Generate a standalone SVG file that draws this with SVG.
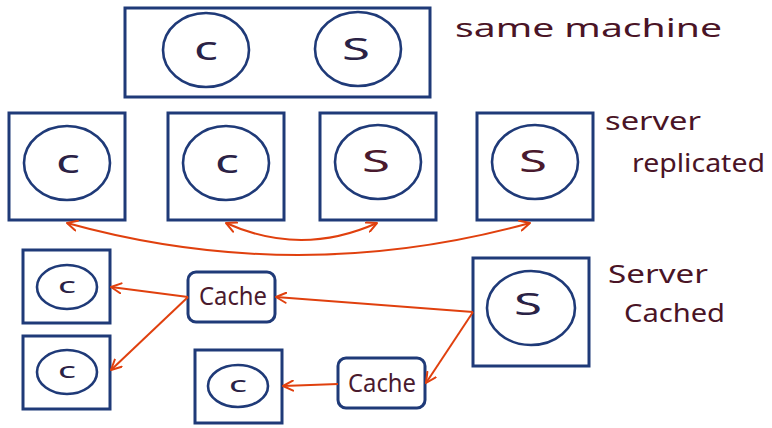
<svg xmlns="http://www.w3.org/2000/svg" width="772" height="428" viewBox="0 0 772 428">
<style>
.box{fill:#fff;stroke:#1f3a78;stroke-width:3}
.cir{fill:none;stroke:#1f3a78;stroke-width:2.6}
.cache{fill:#fff;stroke:#1f3a78;stroke-width:3}
.lbl{font-family:"Noto Sans",sans-serif;fill:#4a1426;font-size:26px}
.ch{font-family:"Noto Sans",sans-serif;fill:#2a2246;text-anchor:middle}
.sv{font-family:"Noto Sans",sans-serif;fill:#4a1a2e;text-anchor:middle}
.arr{fill:none;stroke:#e0400e;stroke-width:2}
</style>
<defs>
<marker id="ah" viewBox="0 0 12 12" refX="11" refY="6" markerWidth="12" markerHeight="12" markerUnits="userSpaceOnUse" orient="auto-start-reverse">
<path d="M1 1 L11 6 L1 11" fill="none" stroke="#e0400e" stroke-width="2" stroke-linecap="round" stroke-linejoin="round"/>
</marker>
</defs>

<g id="same-machine">
<rect class="box" x="125" y="8" width="305" height="89"/>
<ellipse class="cir" cx="206" cy="50" rx="43" ry="37"/>
<text class="ch" x="206" y="60" font-size="32" textLength="24" lengthAdjust="spacingAndGlyphs">c</text>
<ellipse class="cir" cx="358" cy="49" rx="43" ry="37"/>
<text class="ch" x="356" y="60" font-size="31" textLength="28" lengthAdjust="spacingAndGlyphs">S</text>
<text class="lbl" x="455" y="37" textLength="267" lengthAdjust="spacingAndGlyphs">same machine</text>
</g>

<g id="rep-c1">
<rect class="box" x="9" y="113" width="116" height="107"/>
<ellipse class="cir" cx="67" cy="163" rx="43" ry="37"/>
<text class="ch" x="68" y="173" font-size="32" textLength="24" lengthAdjust="spacingAndGlyphs">c</text>
</g>
<g id="rep-c2">
<rect class="box" x="168" y="113" width="116" height="107"/>
<ellipse class="cir" cx="226" cy="163" rx="43" ry="37"/>
<text class="ch" x="227" y="173" font-size="32" textLength="24" lengthAdjust="spacingAndGlyphs">c</text>
</g>
<g id="rep-s1">
<rect class="box" x="320" y="113" width="116" height="107"/>
<ellipse class="cir" cx="378" cy="162" rx="43" ry="37"/>
<text class="sv" x="376" y="172" font-size="31" textLength="28" lengthAdjust="spacingAndGlyphs">S</text>
</g>
<g id="rep-s2">
<rect class="box" x="477" y="113" width="116" height="107"/>
<ellipse class="cir" cx="535" cy="162" rx="43" ry="37"/>
<text class="sv" x="533" y="172" font-size="31" textLength="28" lengthAdjust="spacingAndGlyphs">S</text>
</g>
<g id="label-replicated">
<text class="lbl" x="605" y="130" textLength="96" lengthAdjust="spacingAndGlyphs">server</text>
<text class="lbl" x="632" y="172" textLength="133" lengthAdjust="spacingAndGlyphs">replicated</text>
</g>

<g id="cached-c1">
<rect class="box" x="23" y="250" width="87" height="73"/>
<ellipse class="cir" cx="67" cy="287" rx="30" ry="22"/>
<text class="ch" x="67" y="293" font-size="22" textLength="18" lengthAdjust="spacingAndGlyphs">c</text>
</g>
<g id="cached-c2">
<rect class="box" x="23" y="336" width="87" height="73"/>
<ellipse class="cir" cx="67" cy="372" rx="30" ry="22"/>
<text class="ch" x="67" y="378" font-size="22" textLength="18" lengthAdjust="spacingAndGlyphs">c</text>
</g>
<g id="cached-c3">
<rect class="box" x="195" y="350" width="87" height="73"/>
<ellipse class="cir" cx="238" cy="386" rx="30" ry="21"/>
<text class="ch" x="238" y="392" font-size="22" textLength="18" lengthAdjust="spacingAndGlyphs">c</text>
</g>
<g id="cache1">
<rect class="cache" x="188" y="272" width="87" height="50" rx="8"/>
<text class="sv" x="233" y="305" font-size="26" textLength="68" lengthAdjust="spacingAndGlyphs">Cache</text>
</g>
<g id="cache2">
<rect class="cache" x="338" y="358" width="87" height="50" rx="8"/>
<text class="sv" x="382" y="392" font-size="26" textLength="68" lengthAdjust="spacingAndGlyphs">Cache</text>
</g>
<g id="cached-server">
<rect class="box" x="473" y="258" width="116" height="108"/>
<ellipse class="cir" cx="531" cy="308" rx="44" ry="37"/>
<text class="ch" x="528" y="315" font-size="31" textLength="28" lengthAdjust="spacingAndGlyphs">S</text>
</g>
<g id="label-cached">
<text class="lbl" x="608" y="283" textLength="100" lengthAdjust="spacingAndGlyphs">Server</text>
<text class="lbl" x="624" y="322" textLength="101" lengthAdjust="spacingAndGlyphs">Cached</text>
</g>

<g id="connectors">
<path class="arr" d="M67 223 Q298 287 530 223" marker-start="url(#ah)" marker-end="url(#ah)"/>
<path class="arr" d="M226 223 Q301 257 377 223" marker-start="url(#ah)" marker-end="url(#ah)"/>
<path class="arr" d="M473 312 L276 297" marker-end="url(#ah)"/>
<path class="arr" d="M473 312 L426 383" marker-end="url(#ah)"/>
<path class="arr" d="M188 297 L111 287" marker-end="url(#ah)"/>
<path class="arr" d="M188 297 L111 370" marker-end="url(#ah)"/>
<path class="arr" d="M338 384 L283 386" marker-end="url(#ah)"/>
</g>
</svg>
